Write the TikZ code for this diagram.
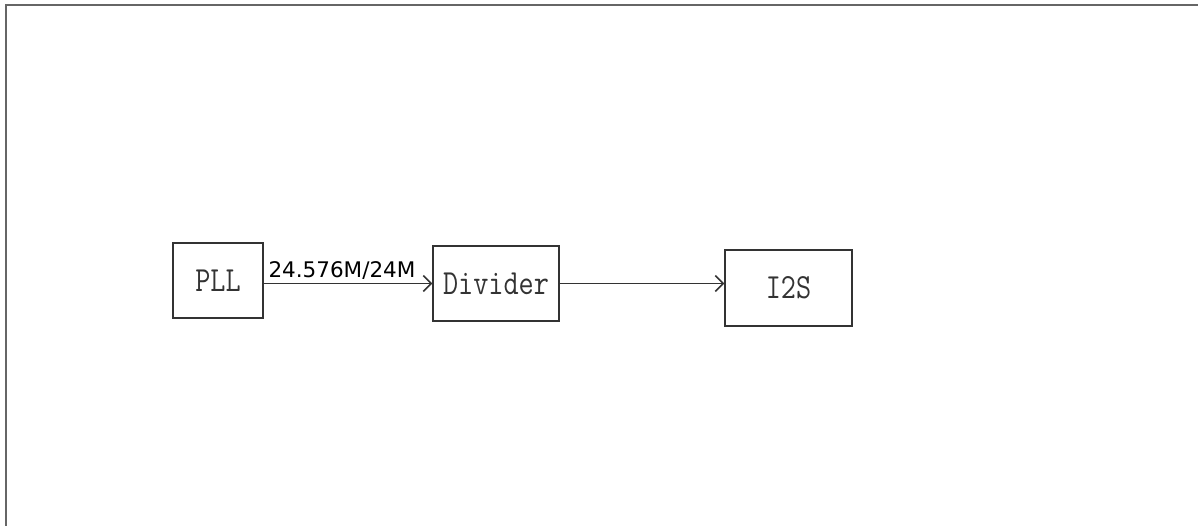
\documentclass[tikz,border=0pt]{standalone}
\usepackage{fontspec}
\usepackage{graphicx}
\usetikzlibrary{arrows.meta}
\newfontfamily\labelfont{DejaVu Sans}
\definecolor{framegray}{HTML}{666666}
\definecolor{boxgray}{HTML}{333333}
\begin{document}
\begin{tikzpicture}[x=1pt,y=-1pt,
  blockbox/.style={draw=boxgray,line width=1.2pt,minimum width=#1,minimum height=75pt,inner sep=0pt,
    font=\fontsize{29.4}{30}\ttfamily,text=boxgray},
  conn/.style={draw=boxgray,line width=1.8pt,-{Straight Barb[length=8pt,width=16pt,line width=1.6pt]}},
  lbl/.style={font=\labelfont\fontsize{21.5}{22}\selectfont,text=black,inner sep=0pt}]
\useasboundingbox (0,0) rectangle (1198,526);
\draw[framegray,line width=1.8pt] (6,526) -- (6,5) -- (1198,5);
\node[blockbox=90pt] (pll) at (218,280.5) {\scalebox{1}[1.2]{PLL}};
\node[blockbox=126pt] (div) at (496,283.5) {\scalebox{1}[1.2]{Divider}};
\node[blockbox=127pt,minimum height=76pt] (i2s) at (788.5,288) {\scalebox{1}[1.2]{I2S}};
\draw[conn] (pll.east |- div.west) -- (div.west)
  node[lbl,pos=0,anchor=base west,xshift=4pt,yshift=6pt] (rate) {24.576M/24M};
\draw[conn] (div.east) -- (div.east -| i2s.west);
\end{tikzpicture}
\end{document}
